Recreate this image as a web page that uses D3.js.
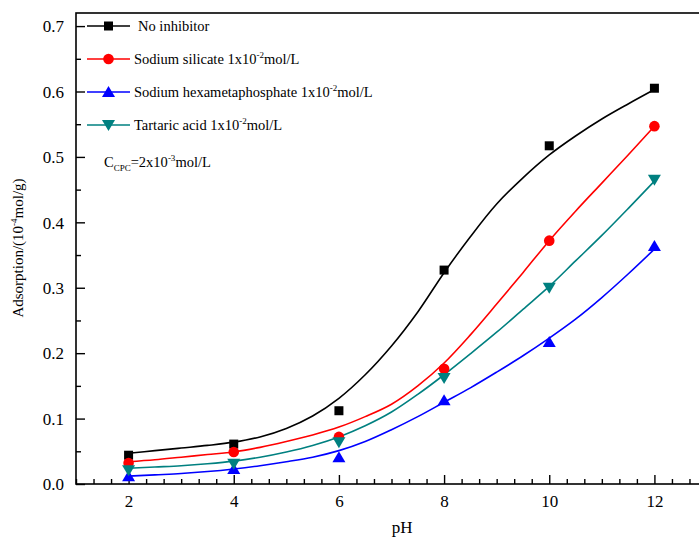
<!DOCTYPE html>
<html>
<head>
<meta charset="utf-8">
<script src="https://cdn.jsdelivr.net/npm/d3@7"></script>
<style>
  body { margin: 0; background: #fff; }
  svg text { font-family: "Liberation Serif", "Times New Roman", serif !important; fill: #000; }
</style>
</head>
<body>
<div id="chart"></div>
<script>
// measured points
const phValues = [2, 4, 6, 8, 10, 12];
const noInhibitor = [0.044, 0.061, 0.112, 0.327, 0.517, 0.605];
const silicate = [0.032, 0.049, 0.072, 0.176, 0.372, 0.547];
const hexameta = [0.012, 0.023, 0.041, 0.128, 0.217, 0.364];
const tartaric = [0.021, 0.031, 0.064, 0.162, 0.300, 0.465];

// fitted curves, every half pH unit from 2 to 12
const fitPh = [2, 2.5, 3, 3.5, 4, 4.5, 5, 5.5, 6, 6.5, 7, 7.5, 8, 8.5, 9, 9.5, 10, 10.5, 11, 11.5, 12];
const fitNoInhibitor = [0.047, 0.051, 0.055, 0.059, 0.064, 0.072, 0.085, 0.104, 0.131, 0.167, 0.211, 0.263, 0.323, 0.378, 0.428, 0.468, 0.503, 0.532, 0.558, 0.581, 0.603];
const fitSilicate = [0.034, 0.037, 0.041, 0.045, 0.049, 0.056, 0.065, 0.075, 0.087, 0.103, 0.122, 0.150, 0.185, 0.228, 0.275, 0.323, 0.372, 0.417, 0.460, 0.503, 0.547];
const fitTartaric = [0.024, 0.026, 0.028, 0.031, 0.035, 0.041, 0.049, 0.059, 0.072, 0.089, 0.110, 0.137, 0.167, 0.199, 0.232, 0.267, 0.302, 0.341, 0.380, 0.421, 0.463];
const fitHexameta = [0.012, 0.014, 0.016, 0.019, 0.023, 0.028, 0.034, 0.041, 0.051, 0.065, 0.083, 0.103, 0.125, 0.147, 0.171, 0.196, 0.223, 0.252, 0.285, 0.321, 0.359];

const xTicks = [2, 4, 6, 8, 10, 12];
const yTicks = [0.0, 0.1, 0.2, 0.3, 0.4, 0.5, 0.6, 0.7];

const series = [
  { name: 'No inhibitor', sup: null, color: '#000000', shape: 'square', pts: noInhibitor, fit: fitNoInhibitor },
  { name: 'Sodium silicate 1x10', sup: '-2', color: '#ff0000', shape: 'circle', pts: silicate, fit: fitSilicate },
  { name: 'Sodium hexametaphosphate 1x10', sup: '-2', color: '#0000ff', shape: 'triangle', pts: hexameta, fit: fitHexameta },
  { name: 'Tartaric acid 1x10', sup: '-2', color: '#008080', shape: 'down', pts: tartaric, fit: fitTartaric }
];

const svgWidth = 699, svgHeight = 543;
const margin = { top: 13, left: 76, bottom: 59 };
const plotRight = 707; // frame goes past the right edge of the picture

const svg = d3.select('#chart').append('svg')
  .attr('width', svgWidth)
  .attr('height', svgHeight);

const x = d3.scaleLinear().domain([1, 13]).range([margin.left, plotRight]);
const y = d3.scaleLinear().domain([0, 0.72]).range([svgHeight - margin.bottom, margin.top]);

// frame
svg.append('rect')
  .attr('x', margin.left)
  .attr('y', margin.top)
  .attr('width', plotRight - margin.left)
  .attr('height', y(0) - margin.top)
  .attr('fill', 'none')
  .attr('stroke', '#000')
  .attr('stroke-width', 1.6);

// x axis with minor ticks every 1/3
const xMinor = d3.range(1, 13.01, 1 / 3).filter(v => !xTicks.some(t => Math.abs(t - v) < 1e-6));
const xAxisG = svg.append('g').attr('transform', `translate(0,${y(0)})`);
xAxisG.call(d3.axisBottom(x).tickValues(xMinor).tickSize(-5).tickFormat(''))
  .call(g => g.select('.domain').remove());
xAxisG.append('g').call(d3.axisBottom(x).tickValues(xTicks).tickSize(-9).tickFormat(d3.format('d')))
  .call(g => g.select('.domain').remove())
  .call(g => g.selectAll('text').attr('dy', 0).attr('y', 23).style('font-size', '17px'));

// y axis with minor ticks at 0.05
const yMinor = d3.range(0.05, 0.72, 0.1);
const yAxisG = svg.append('g').attr('transform', `translate(${margin.left},0)`);
yAxisG.call(d3.axisLeft(y).tickValues(yMinor).tickSize(-5).tickFormat(''))
  .call(g => g.select('.domain').remove());
yAxisG.append('g').call(d3.axisLeft(y).tickValues(yTicks).tickSize(-9).tickFormat(d3.format('.1f')))
  .call(g => g.select('.domain').remove())
  .call(g => g.selectAll('text').attr('x', -12).attr('dy', '0.34em').style('font-size', '17px'));
svg.selectAll('.tick line').attr('stroke', '#000').attr('stroke-width', 1.4);

// axis titles
svg.append('text')
  .attr('x', x(7.2))
  .attr('y', 533)
  .attr('text-anchor', 'middle')
  .style('font-size', '17px')
  .text('pH');

const yLabel = svg.append('text')
  .attr('transform', 'translate(23,248) rotate(-90)')
  .attr('text-anchor', 'middle')
  .style('font-size', '15px');
yLabel.append('tspan').text('Adsorption/(10');
yLabel.append('tspan').attr('dy', -6).style('font-size', '9px').text('-4');
yLabel.append('tspan').attr('dy', 6).text('mol/g)');

// marker drawing
function drawMarker(g, shape, color, cx, cy) {
  if (shape === 'square') {
    g.append('rect').attr('x', cx - 4.5).attr('y', cy - 4.5).attr('width', 9).attr('height', 9).attr('fill', color);
  } else if (shape === 'circle') {
    g.append('circle').attr('cx', cx).attr('cy', cy).attr('r', 5.3).attr('fill', color);
  } else if (shape === 'triangle') {
    g.append('path').attr('d', `M${cx},${cy - 6}L${cx + 6.5},${cy + 5}L${cx - 6.5},${cy + 5}Z`).attr('fill', color);
  } else {
    g.append('path').attr('d', `M${cx},${cy + 6}L${cx + 6.5},${cy - 5}L${cx - 6.5},${cy - 5}Z`).attr('fill', color);
  }
}

const line = d3.line()
  .x((d, i) => x(fitPh[i]))
  .y(d => y(d))
  .curve(d3.curveCatmullRom.alpha(0.5));

const marks = svg.append('g');
series.forEach(s => {
  marks.append('path')
    .attr('d', line(s.fit))
    .attr('fill', 'none')
    .attr('stroke', s.color)
    .attr('stroke-width', 1.6);
});
series.forEach(s => {
  s.pts.forEach((v, i) => drawMarker(marks, s.shape, s.color, x(phValues[i]), y(v)));
});

// legend
const legendRows = [26, 59, 92, 125];
const legend = svg.append('g');
series.forEach((s, i) => {
  const ly = legendRows[i];
  legend.append('line')
    .attr('x1', 87).attr('x2', 130).attr('y1', ly).attr('y2', ly)
    .attr('stroke', s.color).attr('stroke-width', 1.6);
  drawMarker(legend, s.shape, s.color, 108.5, ly);
  const t = legend.append('text')
    .attr('x', i === 0 ? 138 : 134)
    .attr('y', ly + 5)
    .style('font-size', '14.5px');
  t.append('tspan').text(s.name);
  if (s.sup) {
    t.append('tspan').attr('dy', -6).style('font-size', '9px').text(s.sup);
    t.append('tspan').attr('dy', 6).text('mol/L');
  }
});

const cpc = legend.append('text').attr('x', 104).attr('y', 167).style('font-size', '14.5px');
cpc.append('tspan').text('C');
cpc.append('tspan').attr('dy', 4).style('font-size', '9px').text('CPC');
cpc.append('tspan').attr('dy', -4).text('=2x10');
cpc.append('tspan').attr('dy', -6).style('font-size', '9px').text('-3');
cpc.append('tspan').attr('dy', 6).text('mol/L');
</script>
</body>
</html>
